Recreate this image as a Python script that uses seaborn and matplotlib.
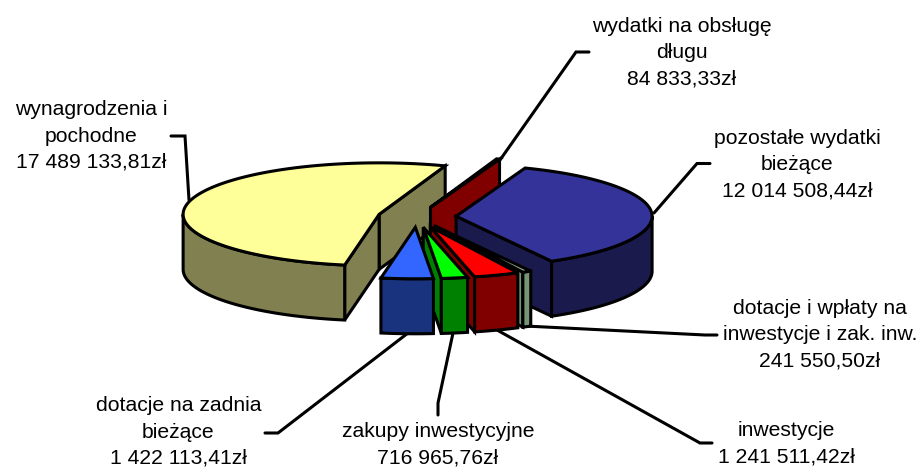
import numpy as np
import seaborn as sns
import matplotlib.pyplot as plt
from matplotlib.patches import Polygon

# clockwise from the top of the pie
categories = ["wydatki na obsługę\ndługu", "pozostałe wydatki\nbieżące",
              "dotacje i wpłaty na\ninwestycje i zak. inw.", "inwestycje",
              "zakupy inwestycyjne", "dotacje na zadnia\nbieżące",
              "wynagrodzenia i\npochodne"]
values = [84833.33, 12014508.44, 241550.50, 1241511.42, 716965.76, 1422113.41, 17489133.81]
top_colors = ["#800000", "#333399", "#8FAA8F", "#FF0000", "#00FF00", "#3366FF", "#FFFF99"]
wall_colors = ["#800000", "#1A1A4D", "#759575", "#800000", "#008000", "#1A337F", "#808050"]

START = 70.3
CX, CY = 417, 217
RX, RY = 196, 51.5
DEPTH = 55
EXPLODE = 0.2
LW = 2.2

label_pos = [(682, 53), (797, 165), (820, 335), (786, 444), (438, 445), (178.5, 432), (91, 136)]
leaders = [[(589, 52), (576, 52), (500, 160)],
           [(710, 163.5), (697, 163.5), (654, 213)],
           [(717, 335), (705, 335), (525, 326)],
           [(712, 443), (700, 443), (497, 330)],
           [(438, 415), (438, 403), (453, 333)],
           [(265, 433), (278, 433), (408, 333)],
           [(171, 136), (185, 136), (189, 200)]]


def money(v):
    return f"{v:,.2f}".replace(",", " ").replace(".", ",") + "zł"


sns.set_theme(style="white")
plt.rcParams["font.family"] = ["Liberation Sans", "DejaVu Sans"]

fig = plt.figure(figsize=(9.2, 4.67), dpi=100)
ax = fig.add_axes([0, 0, 1, 1])
ax.set_xlim(0, 920)
ax.set_ylim(467, 0)
ax.axis("off")

tops = sns.color_palette(top_colors)
walls = sns.color_palette(wall_colors)

sweep = np.array(values) / sum(values) * 360
ends = START - np.cumsum(sweep)
starts = ends + sweep


def point(apex, ang):
    r = np.radians(ang)
    return apex[0] + RX * np.cos(r), apex[1] - RY * np.sin(r)


def face(pts, color, z):
    ax.add_patch(Polygon(pts, closed=True, facecolor=color, edgecolor="black",
                         linewidth=LW, joinstyle="miter", zorder=z))


def down(pts):
    return [(x, y + DEPTH) for x, y in pts]


# back slices first, front ones over them
order = [6, 0, 1, 2, 3, 4, 5]
for n, i in enumerate(order):
    lo, hi = ends[i], starts[i]
    mid = np.radians((lo + hi) / 2)
    apex = (CX + EXPLODE * RX * np.cos(mid), CY - EXPLODE * RY * np.sin(mid))
    z = 2 + n

    # cut faces, only the ones turned to the viewer
    if np.sin(np.radians(lo - 90)) < 0:
        edge = [apex, point(apex, lo)]
        face(edge + down(edge)[::-1], walls[i], z)
    if np.sin(np.radians(hi + 90)) < 0:
        edge = [apex, point(apex, hi)]
        face(edge + down(edge)[::-1], walls[i], z)

    # rim, front part of the ellipse
    for shift in [360, 0, -360]:
        a = max(lo + shift, 180)
        b = min(hi + shift, 360)
        if a < b:
            arc = [point(apex, t) for t in np.linspace(a, b, 80)]
            face(arc + down(arc)[::-1], walls[i], z)

    arc = [point(apex, t) for t in np.linspace(lo, hi, 160)]
    face([apex] + arc, tops[i], z)

for pts in leaders:
    xs, ys = zip(*pts)
    ax.plot(xs, ys, color="black", lw=LW, zorder=1, solid_joinstyle="miter")

for name, v, (x, y) in zip(categories, values, label_pos):
    ax.text(x, y, name + "\n" + money(v), ha="center", va="center",
            fontsize=15.2, color="black", linespacing=1.48, zorder=20)

fig.savefig("out.png", dpi=100)
